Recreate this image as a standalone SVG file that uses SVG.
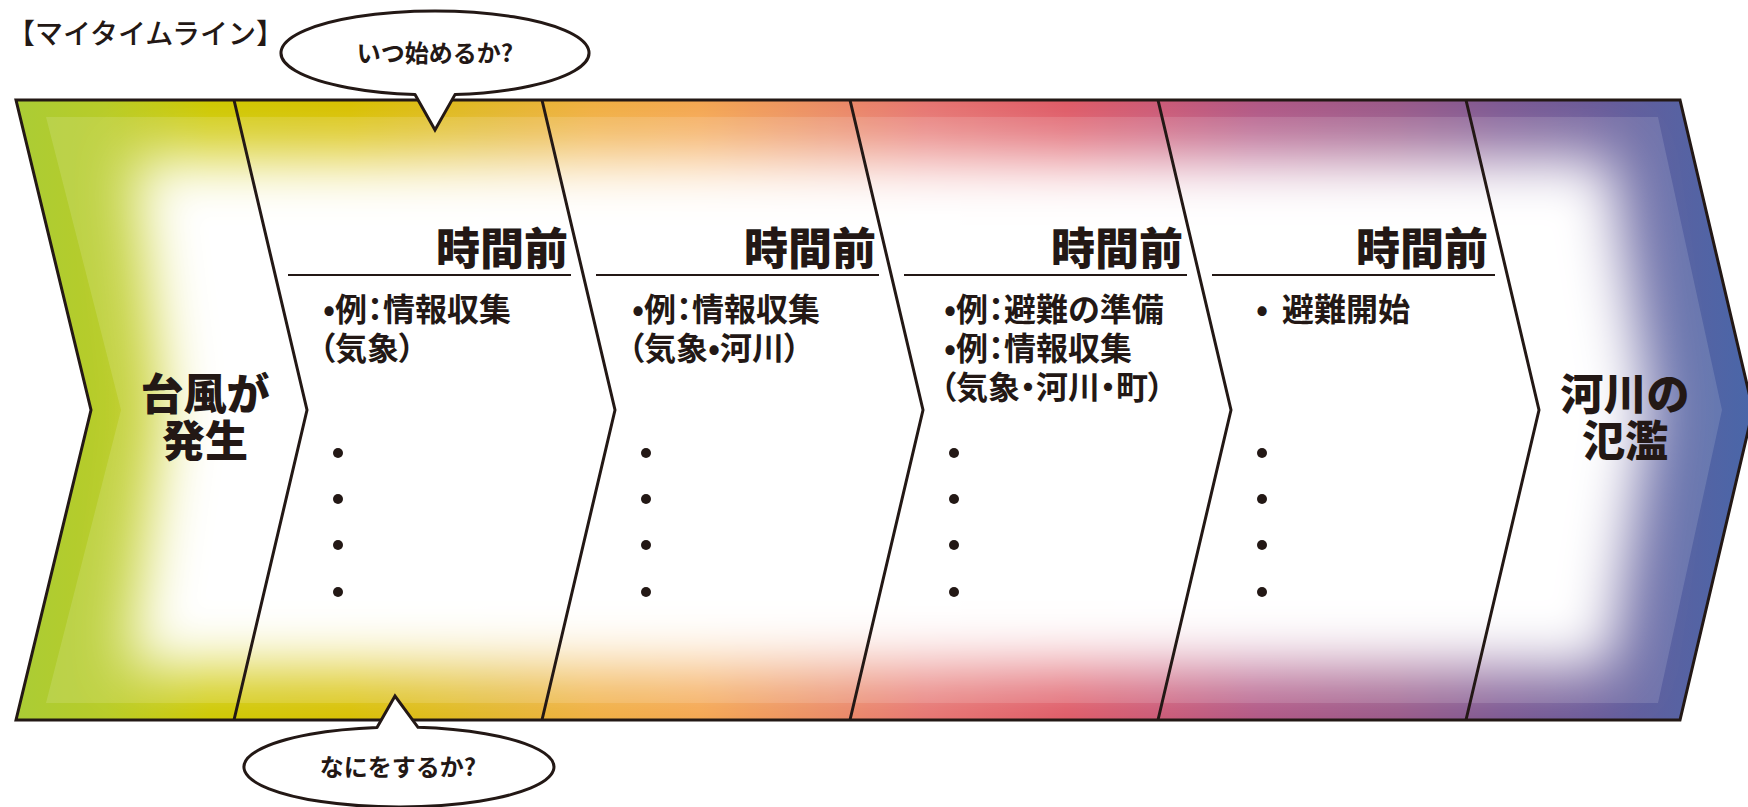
<svg xmlns="http://www.w3.org/2000/svg" width="1748" height="807" viewBox="0 0 1748 807">
  <defs>
    <linearGradient id="bandGrad" gradientUnits="userSpaceOnUse" x1="0" y1="0" x2="1748" y2="0">
      <stop offset="0" stop-color="#a8cc38"/>
      <stop offset="0.06" stop-color="#b8cc28"/>
      <stop offset="0.12" stop-color="#cec800"/>
      <stop offset="0.20" stop-color="#d8c000"/>
      <stop offset="0.28" stop-color="#e2b628"/>
      <stop offset="0.34" stop-color="#f0ae40"/>
      <stop offset="0.40" stop-color="#f4a650"/>
      <stop offset="0.46" stop-color="#ec9060"/>
      <stop offset="0.53" stop-color="#e67470"/>
      <stop offset="0.61" stop-color="#de5a66"/>
      <stop offset="0.66" stop-color="#cc5874"/>
      <stop offset="0.72" stop-color="#b05684"/>
      <stop offset="0.80" stop-color="#985888"/>
      <stop offset="0.86" stop-color="#7c5892"/>
      <stop offset="0.91" stop-color="#6a5a98"/>
      <stop offset="0.96" stop-color="#5862a2"/>
      <stop offset="1" stop-color="#4a66a8"/>
    </linearGradient>
    <clipPath id="bandClip">
      <polygon points="16,100 1680,100 1753,410 1680,720 16,720 91,410"/>
    </clipPath>
    <filter id="glow" filterUnits="userSpaceOnUse" x="0" y="0" width="1748" height="807">
      <feGaussianBlur stdDeviation="28"/>
    </filter>
    <style>
      .ink { fill: #231815; font-family: "Noto Sans CJK JP", "Noto Sans", sans-serif; }
      .title { font-size: 28px; font-weight: 500; }
      .head { font-size: 44px; font-weight: 900; text-anchor: end; }
      .body { font-size: 32px; font-weight: 700; font-feature-settings: "palt" 1; }
      .big { font-size: 43px; font-weight: 900; text-anchor: middle; }
      .bub { font-size: 24px; font-weight: 700; text-anchor: middle; }
      .rule { stroke: #231815; stroke-width: 2; fill: none; }
      .edge { stroke: #231815; stroke-width: 3; fill: none; stroke-linejoin: miter; }
      .bubble { fill: #ffffff; stroke: #231815; stroke-width: 3; stroke-linejoin: miter; }
      .dot { fill: #231815; }
    </style>
  </defs>

  <rect x="0" y="0" width="1748" height="807" fill="#ffffff"/>

  <text class="ink title" x="7" y="44">【マイタイムライン】</text>

  <g id="timeline-band">
    <polygon points="16,100 1680,100 1753,410 1680,720 16,720 91,410" fill="url(#bandGrad)"/>
    <g clip-path="url(#bandClip)">
      <polygon points="46,117 1658,117 1722,410 1658,703 46,703 121,410" fill="#ffffff" opacity="0.13"/>
      <polygon points="132,158 1610,158 1650,410 1610,668 128,668 162,410" fill="#ffffff" filter="url(#glow)"/>
    </g>
  </g>

  <g id="dividers">
    <polyline class="edge" points="234,100 307,410 234,720"/>
    <polyline class="edge" points="542,100 615,410 542,720"/>
    <polyline class="edge" points="850,100 923,410 850,720"/>
    <polyline class="edge" points="1158,100 1231,410 1158,720"/>
    <polyline class="edge" points="1466,100 1539,410 1466,720"/>
    <polygon class="edge" points="16,100 1680,100 1753,410 1680,720 16,720 91,410"/>
  </g>

  <g id="seg-start">
    <text class="ink big" x="205" y="410">台風が</text>
    <text class="ink big" x="205" y="457">発生</text>
  </g>

  <g id="seg-1">
    <text class="ink head" x="568" y="265">時間前</text>
    <line class="rule" x1="288" y1="275" x2="571" y2="275"/>
    <text class="ink body" x="323" y="321">•例：情報収集</text>
    <text class="ink body" x="319" y="360">（気象）</text>
    <circle class="dot" cx="338" cy="453" r="5"/>
    <circle class="dot" cx="338" cy="499" r="5"/>
    <circle class="dot" cx="338" cy="545" r="5"/>
    <circle class="dot" cx="338" cy="592" r="5"/>
  </g>

  <g id="seg-2">
    <text class="ink head" x="876" y="265">時間前</text>
    <line class="rule" x1="596" y1="275" x2="879" y2="275"/>
    <text class="ink body" x="632" y="321">•例：情報収集</text>
    <text class="ink body" x="628" y="360">（気象•河川）</text>
    <circle class="dot" cx="646" cy="453" r="5"/>
    <circle class="dot" cx="646" cy="499" r="5"/>
    <circle class="dot" cx="646" cy="545" r="5"/>
    <circle class="dot" cx="646" cy="592" r="5"/>
  </g>

  <g id="seg-3">
    <text class="ink head" x="1183" y="265">時間前</text>
    <line class="rule" x1="904" y1="275" x2="1187" y2="275"/>
    <text class="ink body" x="944" y="321">•例：避難の準備</text>
    <text class="ink body" x="944" y="360">•例：情報収集</text>
    <text class="ink body" x="940" y="399">（気象・河川・町）</text>
    <circle class="dot" cx="954" cy="453" r="5"/>
    <circle class="dot" cx="954" cy="499" r="5"/>
    <circle class="dot" cx="954" cy="545" r="5"/>
    <circle class="dot" cx="954" cy="592" r="5"/>
  </g>

  <g id="seg-4">
    <text class="ink head" x="1488" y="265">時間前</text>
    <line class="rule" x1="1212" y1="275" x2="1495" y2="275"/>
    <text class="ink body" x="1256" y="321">•<tspan x="1282">避難開始</tspan></text>
    <circle class="dot" cx="1262" cy="453" r="5"/>
    <circle class="dot" cx="1262" cy="499" r="5"/>
    <circle class="dot" cx="1262" cy="545" r="5"/>
    <circle class="dot" cx="1262" cy="592" r="5"/>
  </g>

  <g id="seg-end">
    <text class="ink big" x="1625" y="410">河川の</text>
    <text class="ink big" x="1625" y="457">氾濫</text>
  </g>

  <g id="bubble-when">
    <path class="bubble" d="M 415 94.6 L 435 130 L 455 94.6 A 154 42 0 1 0 415 94.6 Z"/>
    <text class="ink bub" x="435" y="62">いつ始めるか?</text>
  </g>

  <g id="bubble-what">
    <path class="bubble" d="M 377 727.4 L 395 696 L 418 727.3 A 155 40 0 1 1 377 727.4 Z"/>
    <text class="ink bub" x="398" y="776">なにをするか?</text>
  </g>
</svg>
